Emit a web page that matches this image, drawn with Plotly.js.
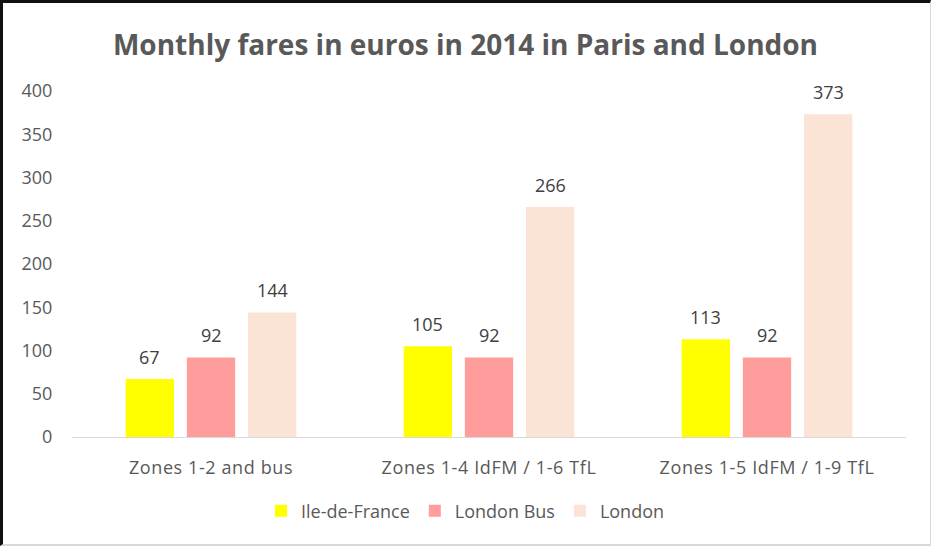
<!DOCTYPE html>
<html>
<head>
<meta charset="utf-8">
<script src="https://cdn.plot.ly/plotly-3.0.1.min.js"></script>
<style>
html,body{margin:0;padding:0;background:#fff;}
#wrap{position:relative;width:931px;height:546px;overflow:hidden;}
#chart{position:absolute;left:0;top:0;width:931px;height:546px;}
#chart .xtick text{letter-spacing:0.6px;}
#frame{position:absolute;left:0;top:0;width:931px;height:546px;box-sizing:border-box;
border-left:3px solid #111;border-top:3px solid #111;border-right:1px solid #d9d9d9;border-bottom:2px solid #d9d9d9;pointer-events:none;}
</style>
</head>
<body>
<div id="wrap"><div id="chart"></div><div id="frame"></div></div>
<script>
const categories = ["Zones 1-2 and bus", "Zones 1-4 IdFM / 1-6 TfL", "Zones 1-5 IdFM / 1-9 TfL"];
const seriesNames = ["Ile-de-France", "London Bus", "London"];
const ileDeFrance = [67, 105, 113];
const londonBus = [92, 92, 92];
const london = [144, 266, 373];
const seriesValues = [ileDeFrance, londonBus, london];
const colors = ["#ffff00", "#ff9c9c", "#fbe3d6"];
const yTicks = [0, 50, 100, 150, 200, 250, 300, 350, 400];

const FONT = "'Open Sans', sans-serif";
const bargap = 0.34;

const traces = seriesValues.map((vals, j) => ({
  type: "bar",
  name: seriesNames[j],
  x: categories,
  y: vals,
  marker: {color: colors[j], line: {width: 0}},
  hoverinfo: "none"
}));

const annotations = [];
seriesValues.forEach((vals, j) => {
  vals.forEach((v, i) => {
    annotations.push({
      xref: "x", yref: "y",
      x: i + (j - 1) * (1 - bargap) / 3,
      y: v,
      text: String(v),
      showarrow: false,
      yanchor: "bottom",
      yshift: 8,
      font: {family: FONT, size: 18, color: "#404040"}
    });
  });
});

const layout = {
  width: 931, height: 546,
  margin: {l: 72, r: 25, t: 91, b: 109},
  paper_bgcolor: "#ffffff",
  plot_bgcolor: "#ffffff",
  barmode: "group",
  bargap: bargap,
  bargroupgap: 0.21,
  title: {
    text: "<b>Monthly fares in euros in 2014 in Paris and London</b>",
    font: {family: FONT, size: 28, color: "#595959"},
    x: 0.5, xanchor: "center",
    y: 1 - 45 / 546, yref: "container", yanchor: "middle"
  },
  xaxis: {
    type: "category",
    showgrid: false,
    showline: true, linecolor: "#d9d9d9", linewidth: 1,
    ticks: "outside", ticklen: 14, tickcolor: "rgba(0,0,0,0)",
    tickfont: {family: FONT, size: 18, color: "#595959"},
    zeroline: false,
    fixedrange: true
  },
  yaxis: {
    range: [0, 400],
    tickvals: yTicks,
    ticktext: yTicks.map(String),
    showgrid: false,
    zeroline: false,
    showline: false,
    ticks: "outside", ticklen: 15, tickcolor: "rgba(0,0,0,0)",
    tickfont: {family: FONT, size: 18, color: "#595959"},
    fixedrange: true
  },
  showlegend: true,
  legend: {
    orientation: "h",
    xref: "container", x: 0.5, xanchor: "center",
    yref: "container", y: 1 - 511 / 546, yanchor: "middle",
    font: {family: FONT, size: 18, color: "#595959"},
    traceorder: "normal",
    itemclick: false, itemdoubleclick: false
  },
  annotations: annotations
};

Plotly.newPlot("chart", traces, layout, {displayModeBar: false, staticPlot: true});
</script>
</body>
</html>
